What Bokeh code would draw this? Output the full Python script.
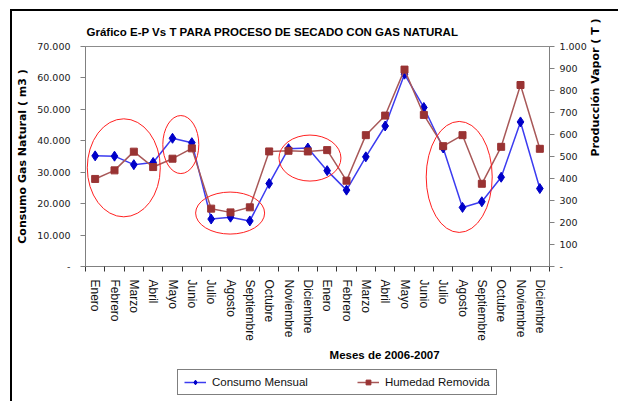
import numpy as np
from bokeh.plotting import figure
from bokeh.layouts import column
from bokeh.models import (Range1d, LinearAxis, FixedTicker, Legend,
                          LegendItem, ColumnDataSource)
from bokeh.embed import file_html
from bokeh.resources import INLINE

# ---------------- data ----------------
months = ["Enero", "Febrero", "Marzo", "Abril", "Mayo", "Junio", "Julio",
          "Agosto", "Septiembre", "Octubre", "Noviembre", "Diciembre"]
categories = months + months
consumo_mensual = [35200, 35100, 32400, 33100, 40800, 39400, 15100, 15700,
                   14500, 26400, 37500, 37700,
                   30500, 24300, 34900, 44700, 61200, 50600, 37700, 18800,
                   20600, 28400, 46000, 24800]
humedad_removida = [398, 437, 522, 452, 490, 537, 263, 246, 269, 523, 526, 523,
                    529, 390, 597, 686, 895, 689, 547, 597, 376, 544, 825, 535]
left_ticks = [0, 10000, 20000, 30000, 40000, 50000, 60000, 70000]
left_tick_labels = ["-", "10.000", "20.000", "30.000", "40.000", "50.000",
                    "60.000", "70.000"]
right_ticks = [0, 100, 200, 300, 400, 500, 600, 700, 800, 900, 1000]
right_tick_labels = ["-", "100", "200", "300", "400", "500", "600", "700",
                     "800", "900", "1.000"]

# red hand-drawn ellipses (annotation): category position, consumo value, px size
ellipse_cat = [2.48, 5.43, 7.98, 12.11, 19.83]
ellipse_val = [31400, 38800, 17000, 34500, 28500]
ellipse_w = [73, 36, 69, 62, 66]
ellipse_h = [98, 58, 42, 46, 111]

BLUE_LINE, BLUE_MARK = "#3c3cf0", "#0000c8"
RED_LINE, RED_MARK = "#a85858", "#993333"

# ---------------- main chart ----------------
W, H = 608, 357
p = figure(width=W, height=H, output_backend="svg", toolbar_location=None,
           x_range=Range1d(0.5, len(categories) + 0.5),
           y_range=Range1d(0, 70000),
           min_border_left=73, min_border_right=71,
           min_border_top=35, min_border_bottom=102,
           styles={"border-left": "2px solid black", "border-top": "2px solid black",
                   "margin-left": "10px", "margin-top": "9px"})
p.extra_y_ranges = {"hum": Range1d(0, 1000)}
p.background_fill_color = "white"
p.border_fill_color = "white"
p.outline_line_color = "#8c8c8c"
p.outline_line_width = 1
p.xgrid.visible = False
p.ygrid.visible = False

# title
p.title.text = "Gráfico E-P Vs T  PARA PROCESO DE SECADO CON GAS NATURAL"
p.title.align = "left"
p.title.offset = 1
p.title.text_font = "Liberation Sans"
p.title.text_font_style = "bold"
p.title.text_font_size = "11.5px"
p.title.text_color = "black"
p.title.standoff = 18

xs = list(range(1, len(categories) + 1))
src = ColumnDataSource(dict(x=xs, consumo=consumo_mensual, humedad=humedad_removida))

TICK_FONT = "DejaVu Sans"
# x axis
xa = p.xaxis[0]
xa.ticker = FixedTicker(ticks=xs, minor_ticks=[i + 0.5 for i in range(0, len(categories) + 1)])
xa.major_label_overrides = {i + 1: c for i, c in enumerate(categories)}
xa.major_label_orientation = "vertical"
xa.major_tick_out = 0
xa.major_tick_in = 0
xa.minor_tick_out = 5
xa.minor_tick_in = 0
xa.minor_tick_line_color = "#333333"
xa.axis_line_color = "#808080"
xa.major_label_text_font = "Liberation Sans"
xa.major_label_text_font_size = "12px"
xa.major_label_text_color = "#111111"
xa.major_label_standoff = 8
xa.axis_label = "\u00a0" * 42 + "Meses de 2006-2007"
xa.axis_label_text_font = "Liberation Sans"
xa.axis_label_text_font_style = "bold"
xa.axis_label_text_font_size = "11.5px"
xa.axis_label_text_color = "black"
xa.axis_label_standoff = 5

# left axis
ya = p.yaxis[0]
ya.ticker = FixedTicker(ticks=left_ticks, minor_ticks=[])
ya.major_label_overrides = dict(zip(left_ticks, left_tick_labels))
ya.major_tick_out = 5
ya.major_tick_in = 0
ya.minor_tick_out = 0
ya.minor_tick_in = 0
ya.axis_line_color = "#808080"
ya.major_tick_line_color = "#808080"
ya.major_label_text_font = TICK_FONT
ya.major_label_text_font_size = "9.5px"
ya.major_label_text_color = "#1a1a1a"
ya.major_label_standoff = 10
ya.axis_label = "Consumo Gas Natural ( m3 )"
ya.axis_label_text_font = TICK_FONT
ya.axis_label_text_font_style = "bold"
ya.axis_label_text_font_size = "11px"
ya.axis_label_text_color = "black"
ya.axis_label_standoff = 5

# right axis
ra = LinearAxis(y_range_name="hum",
                ticker=FixedTicker(ticks=right_ticks, minor_ticks=[]))
ra.major_label_overrides = dict(zip(right_ticks, right_tick_labels))
ra.major_tick_out = 5
ra.major_tick_in = 0
ra.minor_tick_out = 0
ra.minor_tick_in = 0
ra.axis_line_color = "#808080"
ra.major_tick_line_color = "#808080"
ra.major_label_text_font = TICK_FONT
ra.major_label_text_font_size = "9.5px"
ra.major_label_text_color = "#1a1a1a"
ra.major_label_standoff = 5
ra.axis_label = "Producción Vapor ( T )"
ra.axis_label_orientation = np.pi / 2
ra.axis_label_text_font = TICK_FONT
ra.axis_label_text_font_style = "bold"
ra.axis_label_text_font_size = "11px"
ra.axis_label_text_color = "black"
ra.axis_label_standoff = 6
p.add_layout(ra, "right")

# series
p.line("x", "consumo", source=src, line_color=BLUE_LINE, line_width=1.5)
p.scatter("x", "consumo", source=src, marker="diamond", size=10,
          fill_color=BLUE_MARK, line_color=BLUE_MARK)
p.line("x", "humedad", source=src, y_range_name="hum",
       line_color=RED_LINE, line_width=1.5)
p.scatter("x", "humedad", source=src, y_range_name="hum", marker="square",
          size=7, fill_color=RED_MARK, line_color=RED_MARK)

# ellipses
p.ellipse(x=ellipse_cat, y=ellipse_val, width=ellipse_w, height=ellipse_h,
          width_units="screen", height_units="screen",
          fill_color=None, line_color="#ff2020", line_width=1)

# ---------------- legend strip (frame aligned with the chart frame) ----------------
q = figure(width=W, height=35, output_backend="svg", toolbar_location=None,
           x_axis_type=None, y_axis_type=None, min_border=0,
           x_range=Range1d(0, 1), y_range=Range1d(0, 1),
           styles={"border-left": "2px solid black", "margin-left": "10px"})
q.outline_line_color = None
q.background_fill_color = "white"
q.border_fill_color = "white"
# legend proxies: same series, lying outside this strip's visible range
gl1 = q.line("x", "consumo", source=src, line_color=BLUE_LINE, line_width=1.5)
gs1 = q.scatter("x", "consumo", source=src, marker="diamond", size=10,
                fill_color=BLUE_MARK, line_color=BLUE_MARK)
gl2 = q.line("x", "humedad", source=src, line_color=RED_LINE, line_width=1.5)
gs2 = q.scatter("x", "humedad", source=src, marker="square", size=7,
                fill_color=RED_MARK, line_color=RED_MARK)
legend = Legend(items=[LegendItem(label="Consumo Mensual", renderers=[gl1, gs1]),
                       LegendItem(label="Humedad Removida", renderers=[gl2, gs2])],
                orientation="horizontal", location=(92, 6),
                border_line_color="black", border_line_width=1,
                background_fill_color="white", background_fill_alpha=1,
                label_text_font="Liberation Sans", label_text_font_size="11.5px",
                label_text_color="#111111",
                glyph_width=22, glyph_height=12, label_standoff=6,
                spacing=49, padding=6, margin=0)
q.add_layout(legend)

layout = column(p, q, spacing=0)
open("out.html", "w").write(file_html(layout, INLINE))
